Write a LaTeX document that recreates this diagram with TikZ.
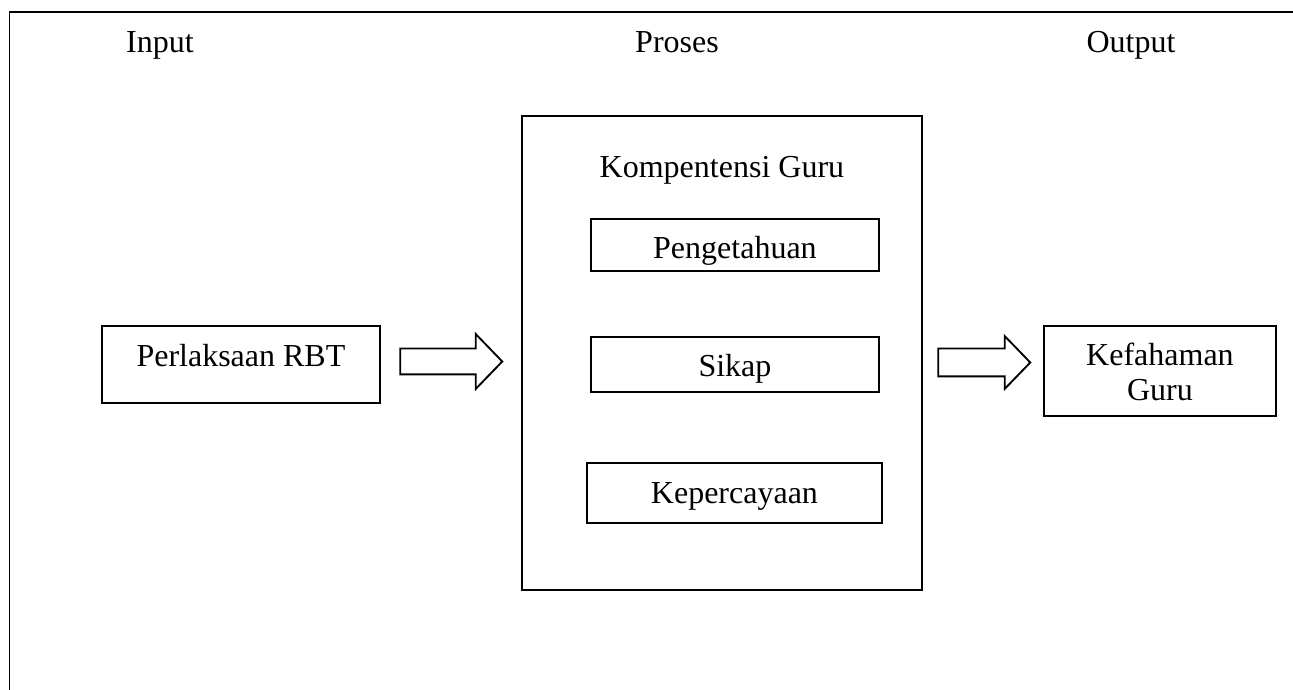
\documentclass[tikz,border=0pt]{standalone}
\usepackage{fontspec}
\setmainfont{Liberation Serif}
\usetikzlibrary{shapes.arrows}

\begin{document}
\begin{tikzpicture}[x=0.375pt,y=-0.375pt,line width=0.7pt,
    every node/.style={font=\fontsize{12}{13.1}\selectfont,inner sep=0pt},
    box/.style={draw,rectangle,anchor=north west},
    blockarrow/.style={draw,single arrow,single arrow tip angle=92,inner xsep=0pt}]

  \useasboundingbox (0,0) rectangle (1293,690);

  % Outer frame (only top and left edges show)
  \draw (9.5,690) -- (9.5,12) -- (1293,12);

  % Column titles
  \node[anchor=base] (tin)  at (160,53)  {Input};
  \node[anchor=base] (tpro) at (677,53)  {Proses};
  \node[anchor=base] (tout) at (1131,53) {Output};

  % Input
  \node[box,minimum width=104.25pt,text height=15.375pt,text depth=13.5pt] (rbt) at (101,325) {Perlaksaan RBT};

  % Process
  \node[box,minimum width=150pt,text height=23.25pt,text depth=154.5pt] (komp) at (521,115) {Kompentensi Guru};
  \begin{scope}[every node/.append style={box,minimum width=108pt,text height=15pt}]
    \node[text depth=4.5pt]   (tahu)  at (590,218) {Pengetahuan};
    \node[text depth=5.625pt] (sikap) at (590,336) {Sikap};
    \node[minimum width=110.625pt,text height=15.375pt,text depth=7.125pt] (percaya) at (586,462) {Kepercayaan};
  \end{scope}

  % Output
  \node[box,minimum width=87pt,text height=28.125pt,text depth=5.625pt,align=center] (faham) at (1043,325) {Kefahaman\\Guru};

  % Block arrows
  \node[blockarrow,inner ysep=4.5pt,minimum height=38.25pt,single arrow head extend=5.44pt] (arr1) at (445,361.5) {};
  \node[blockarrow,inner ysep=4.875pt,minimum height=34.5pt,single arrow head extend=4.69pt] (arr2) at (977.5,362.5) {};

\end{tikzpicture}
\end{document}
